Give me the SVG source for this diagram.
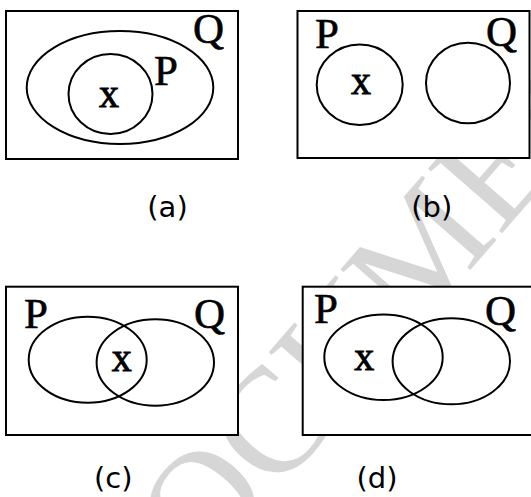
<svg xmlns="http://www.w3.org/2000/svg" width="531" height="497" viewBox="0 0 531 497">
<style>
.box{fill:#fff;stroke:#000;stroke-width:2}
.set{fill:none;stroke:#000;stroke-width:2}
.lab{font-family:"Liberation Serif","DejaVu Serif",serif;font-size:43px;fill:#000;stroke:#000;stroke-width:0.6}
.el{font-family:"Liberation Serif","DejaVu Serif",serif;font-size:40px;fill:#000;stroke:#000;stroke-width:0.9;text-anchor:middle}
.cap{font-family:"DejaVu Sans","Liberation Sans",sans-serif;font-size:29px;fill:#000;text-anchor:middle}
.wm{font-family:"Liberation Serif",serif;font-size:150px;fill:#d6d6d6}
</style>
<rect width="531" height="497" fill="#fff"/>
<text class="wm" x="133" y="658" transform="rotate(-49 133 658)">DOCUMENT</text>
<g id="panel-a">
<rect class="box" x="6" y="11" width="232" height="148"/>
<ellipse class="set" cx="120" cy="87.5" rx="93.3" ry="56.5"/>
<ellipse class="set" cx="110.5" cy="94" rx="42" ry="40"/>
<text class="el" x="109" y="107">x</text>
<text class="lab" x="154" y="85">P</text>
<text class="lab" x="193" y="43">Q</text>
<text class="cap" x="167.5" y="217">(a)</text>
</g>
<g id="panel-b">
<rect class="box" x="297.5" y="11" width="232" height="147"/>
<ellipse class="set" cx="359.7" cy="84.7" rx="43" ry="40.3"/>
<ellipse class="set" cx="468" cy="83" rx="42" ry="40.3"/>
<text class="el" x="361" y="94">x</text>
<text class="lab" x="315" y="48">P</text>
<text class="lab" x="486" y="46">Q</text>
<text class="cap" x="431.7" y="217">(b)</text>
</g>
<g id="panel-c">
<rect class="box" x="6" y="286.7" width="232" height="148.3"/>
<ellipse class="set" cx="87.7" cy="359.7" rx="59" ry="43"/>
<ellipse class="set" cx="155.3" cy="362.5" rx="58.7" ry="43.2"/>
<text class="el" x="121.7" y="370.5">x</text>
<text class="lab" x="24" y="328">P</text>
<text class="lab" x="194" y="328">Q</text>
<text class="cap" x="113.3" y="488">(c)</text>
</g>
<g id="panel-d">
<rect class="box" x="302.7" y="286.7" width="232" height="148.3"/>
<ellipse class="set" cx="383.5" cy="357.2" rx="59.2" ry="42.8"/>
<ellipse class="set" cx="451.3" cy="361.3" rx="58.7" ry="43"/>
<text class="el" x="364.3" y="370">x</text>
<text class="lab" x="314" y="323">P</text>
<text class="lab" x="485" y="325">Q</text>
<text class="cap" x="377" y="488">(d)</text>
</g>
<g id="connectors"/>
</svg>
